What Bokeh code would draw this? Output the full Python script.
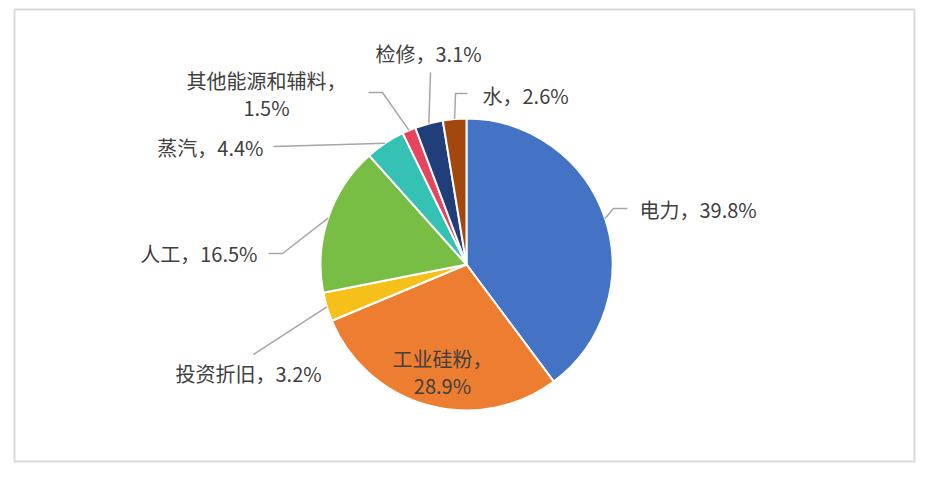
import math
from bokeh.plotting import figure
from bokeh.models import Range1d, ColumnDataSource
from bokeh.core.properties import value
from bokeh.embed import file_html
from bokeh.resources import INLINE

# ---- data ----
categories = ["电力", "工业硅粉", "投资折旧", "人工", "蒸汽", "其他能源和辅料", "检修", "水"]
shares = [39.8, 28.9, 3.2, 16.5, 4.4, 1.5, 3.1, 2.6]
colors = ["#4472C4", "#ED7D31", "#F5C01A", "#78BE45", "#35C1B3", "#E6455E", "#203F7A", "#A2480E"]

# ---- layout (screen pixels, y downward) ----
W, H = 924, 469
CX, CY, R = 466, 264, 146

def sy(y):
    return H - y  # screen y -> data y

# label: (x, y, align, wrapped)
label_layout = [
    (639, 209, "left", False),
    (442, 358, "center", True),
    (175, 373, "left", False),
    (257, 253, "right", False),
    (263, 147, "right", False),
    (266, 80, "center", True),
    (375, 53, "left", False),
    (482, 95, "left", False),
]
LINE_GAP = 27
# leader points beyond the pie edge (label side first), None = no leader
leader_layout = [
    [(627, 208), (613, 208)],
    None,
    [(253, 354)],
    [(268, 253), (282, 253)],
    [(273, 146)],
    [(368, 92), (382, 92)],
    [(430, 72)],
    [(467, 93), (455, 93)],
]

p = figure(width=W, height=H, x_range=Range1d(0, W), y_range=Range1d(0, H),
           output_backend="svg", toolbar_location=None, min_border=0,
           x_axis_location=None, y_axis_location=None)
p.grid.visible = False
p.outline_line_color = None
p.background_fill_color = "white"
p.border_fill_color = "white"

# frame box
p.quad(left=[14], right=[914], top=[sy(9)], bottom=[sy(461)],
       fill_color=None, line_color="#D9D9D9", line_width=2)

total = sum(shares)
starts, ends, mids = [], [], []
cum = 0.0
for s in shares:
    f0 = cum / total
    f1 = (cum + s) / total
    starts.append(math.pi / 2 - 2 * math.pi * f1)
    ends.append(math.pi / 2 - 2 * math.pi * f0)
    mids.append((f0 + f1) / 2)
    cum += s

src = ColumnDataSource(dict(x=[CX] * len(shares), y=[sy(CY)] * len(shares),
                            start=starts, end=ends, color=colors))
p.wedge(x="x", y="y", radius=R, start_angle="start", end_angle="end",
        fill_color="color", line_color="white", line_width=2, source=src)

# leaders
for i, pts in enumerate(leader_layout):
    if pts is None:
        continue
    a = 2 * math.pi * mids[i]
    ex = CX + R * math.sin(a)
    ey = CY - R * math.cos(a)
    xs = [q[0] for q in pts] + [ex]
    ys = [sy(q[1]) for q in pts] + [sy(ey)]
    p.line(xs, ys, line_color="#A6A6A6", line_width=1.5)

# labels
for i, (lx, ly, al, wrap) in enumerate(label_layout):
    if wrap:
        lines = [f"{categories[i]}，", f"{shares[i]}%"]
    else:
        lines = [f"{categories[i]}，{shares[i]}%"]
    for k, t in enumerate(lines):
        p.text(x=[lx], y=[sy(ly + k * LINE_GAP)], text=[t], text_align=al,
               text_baseline="middle",
               text_font=value("Noto Sans CJK SC"), text_font_size="20px",
               text_color="#404040")

open("out.html", "w").write(file_html(p, INLINE))
